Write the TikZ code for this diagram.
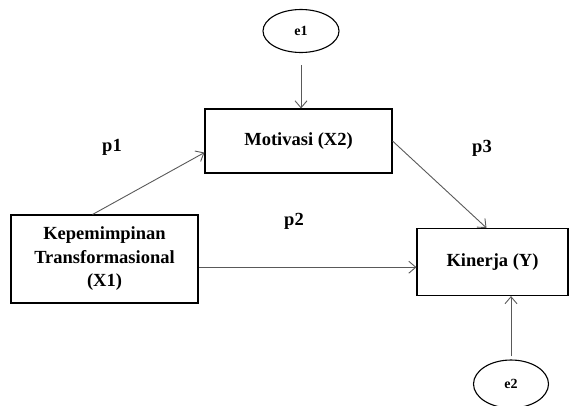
\documentclass[tikz,border=0pt]{standalone}
\usepackage{fontspec}
\setmainfont{Liberation Serif}
\usetikzlibrary{arrows.meta,shapes.geometric}
\tikzset{
    every node/.style={align=center,font=\fontsize{18.5}{23.5}\selectfont\bfseries,},
    construct/.style={draw,rectangle,line width=1.1pt,inner sep=0pt,},
    error/.style={draw,ellipse,line width=1.1pt,inner sep=0pt,font=\fontsize{14}{16}\selectfont\bfseries,},
    effect/.style={draw=black!65,line width=0.9pt,-{Straight Barb[length=7pt,width=12pt]},},
}

\begin{document}
\begin{tikzpicture}[x=1pt,y=-1pt]
                \useasboundingbox (0,0) rectangle (569,405);

                \node[construct,minimum width=187pt,minimum height=88pt] (x1) at (104.5,259) {Kepemimpinan\\Transformasional\\(X1)};
                \node[construct,minimum width=187pt,minimum height=64pt] (x2) at (298.5,141) {Motivasi (X2)};
                \node[construct,minimum width=151pt,minimum height=67pt] (y) at (492.5,262) {Kinerja (Y)};

                \node[error,minimum width=76pt,minimum height=43pt] (e1) at (301,31) {e1};
                \node[error,minimum width=75pt,minimum height=48pt] (e2) at (511,384) {e2};

                \node (p1) at (112,147) {p1};
                \node (p2) at (294,221) {p2};
                \node (p3) at (482,148) {p3};

                \draw[effect] (x1.105) to (x2.187);
                \draw[effect] (x1.-5) to (x1.-5 -| y.west);
                \draw[effect] (x2.east) to (y.100);

                \draw[effect,shorten <=12pt] (e1.south) to (e1.south |- x2.north);
                \draw[effect,shorten <=3pt] (e2.north) to (e2.north |- y.south);
            \end{tikzpicture}
\end{document}
